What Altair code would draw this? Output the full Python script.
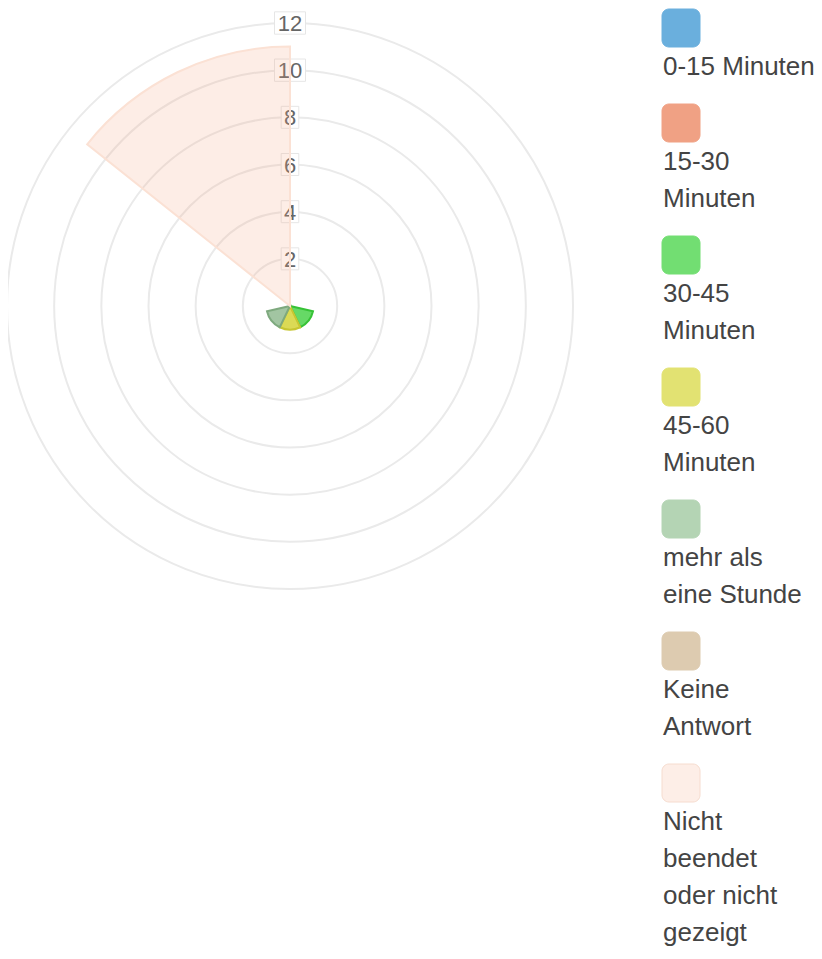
import math
import altair as alt
import pandas as pd

# ---------------- data ----------------
categories = [
    "0-15 Minuten", "15-30 Minuten", "30-45 Minuten", "45-60 Minuten",
    "mehr als eine Stunde", "Keine Antwort", "Nicht beendet oder nicht gezeigt",
]
legend_lines = [
    ["0-15 Minuten"],
    ["15-30", "Minuten"],
    ["30-45", "Minuten"],
    ["45-60", "Minuten"],
    ["mehr als", "eine Stunde"],
    ["Keine", "Antwort"],
    ["Nicht", "beendet", "oder nicht", "gezeigt"],
]
counts = [0, 0, 1, 1, 1, 0, 11]
ticks = [2, 4, 6, 8, 10, 12]
tick_labels = ["2", "4", "6", "8", "10", "12"]

# ---------------- styles / layout ----------------
swatch_fill = ["#6aafdd", "#f0a184", "#72de72", "#e2e272", "#b4d4b4", "#ddcbb0", "#fdeee7"]
swatch_stroke = ["#6aafdd", "#f0a184", "#72de72", "#e2e272", "#b4d4b4", "#ddcbb0", "#f6dccf"]
wedge_fill = ["#6aafdd", "#f0a184", "#5ed75e", "#d9d84c", "#9dc29d", "#ddcbb0", "#f4a582"]
wedge_fill_opacity = [0.9, 0.9, 0.95, 0.95, 0.95, 0.9, 0.2]
wedge_stroke = ["#6aafdd", "#f0a184", "#36c236", "#c7c632", "#7ea97e", "#ddcbb0", "#fbe1d4"]

FONT = "Liberation Sans"
W, H = 806, 938          # whole chart
CX, CY = 282, 298        # polar centre (pixels in the chart)
R_MAX = 283              # pixel radius of the 12-ring
PPU = R_MAX / 12.0
LEG_X = 654              # legend column
SW = 38
LINE = 37
PITCH = 95

n = len(categories)
wedges = pd.DataFrame({
    "cat": categories,
    "value": counts,
    "t0": list(range(n)),
    "t1": [i + 1 for i in range(n)],
    "fill": wedge_fill,
    "fo": wedge_fill_opacity,
    "stroke": wedge_stroke,
})
wedges = wedges[wedges["value"] > 0]

grid = pd.DataFrame({"tick": ticks, "label": tick_labels,
                     "digits": [len(s) for s in tick_labels]})

r_scale = alt.Scale(type="linear", domain=[0, 12], range=[0, R_MAX], zero=True)
t_scale = alt.Scale(domain=[0, n], range=[0, 2 * math.pi])
x_scale = alt.Scale(domain=[-CX / PPU, (W - CX) / PPU], range=[0, W], nice=False, zero=False)
y_scale = alt.Scale(domain=[(CY - H) / PPU, CY / PPU], range=[H, 0], nice=False, zero=False)

X0 = alt.X(datum=0, type="quantitative", scale=x_scale, axis=None)
Y0 = alt.Y(datum=0, type="quantitative", scale=y_scale, axis=None)
YT = alt.Y("tick:Q", scale=y_scale, axis=None)

base_grid = alt.Chart(grid)

rings = base_grid.mark_arc(fillOpacity=0, stroke="#eaeaea", strokeWidth=2).encode(
    x=X0, y=Y0,
    radius=alt.Radius("tick:Q", scale=r_scale, stack=None),
    theta=alt.value(0),
    theta2=alt.value(2 * math.pi),
)

box_one = base_grid.transform_filter("datum.digits == 1").mark_point(
    shape="M-0.8,-1L0.8,-1L0.8,1L-0.8,1Z", filled=True, fill="white",
    stroke="#e6e6e6", strokeWidth=1, opacity=1, size=22 * 22,
).encode(x=X0, y=YT)
box_two = base_grid.transform_filter("datum.digits == 2").mark_point(
    shape="M-1,-0.72L1,-0.72L1,0.72L-1,0.72Z", filled=True, fill="white",
    stroke="#e6e6e6", strokeWidth=1, opacity=1, size=31 * 31,
).encode(x=X0, y=YT)

labels = base_grid.mark_text(font=FONT, fontSize=22, color="#666666",
                             align="center", baseline="middle", dy=1).encode(
    x=X0, y=YT, text="label:N",
)

arcs = alt.Chart(wedges).mark_arc(strokeWidth=2).encode(
    x=X0, y=Y0,
    theta=alt.Theta("t0:Q", scale=t_scale, stack=None),
    theta2=alt.Theta2("t1:Q"),
    radius=alt.Radius("value:Q", scale=r_scale, stack=None),
    fill=alt.Fill("fill:N", scale=None),
    fillOpacity=alt.FillOpacity("fo:Q", scale=None),
    stroke=alt.Stroke("stroke:N", scale=None),
)

# ---------------- legend ----------------
sw_rows, txt_rows = [], []
top = 1.0
for k, lines in enumerate(legend_lines):
    sw_rows.append({"x0": LEG_X, "x1": LEG_X + SW, "y0": top, "y1": top + SW,
                    "fill": swatch_fill[k], "stroke": swatch_stroke[k]})
    for j, line in enumerate(lines):
        txt_rows.append({"x": LEG_X + 1, "y": top + 58 + LINE * j, "text": line})
    top += PITCH + LINE * (len(lines) - 1)

lx = alt.Scale(domain=[0, W], range=[0, W], nice=False, zero=False)
ly = alt.Scale(domain=[0, H], range=[0, H], nice=False, zero=False)

swatches = alt.Chart(pd.DataFrame(sw_rows)).mark_rect(cornerRadius=7, strokeWidth=1).encode(
    x=alt.X("x0:Q", scale=lx, axis=None),
    x2="x1:Q",
    y=alt.Y("y0:Q", scale=ly, axis=None),
    y2="y1:Q",
    fill=alt.Fill("fill:N", scale=None),
    stroke=alt.Stroke("stroke:N", scale=None),
)
texts = alt.Chart(pd.DataFrame(txt_rows)).mark_text(
    font=FONT, fontSize=26, color="#444444", align="left", baseline="middle"
).encode(
    x=alt.X("x:Q", scale=lx, axis=None),
    y=alt.Y("y:Q", scale=ly, axis=None),
    text="text:N",
)

chart = alt.layer(rings, box_one, box_two, labels, arcs, swatches, texts).resolve_scale(
    x="independent", y="independent"
).properties(
    width=W, height=H, padding=0, autosize=alt.AutoSizeParams(type="none")
).configure_view(stroke=None)

chart.save("out.html", embed_options={"renderer": "svg", "actions": False})
